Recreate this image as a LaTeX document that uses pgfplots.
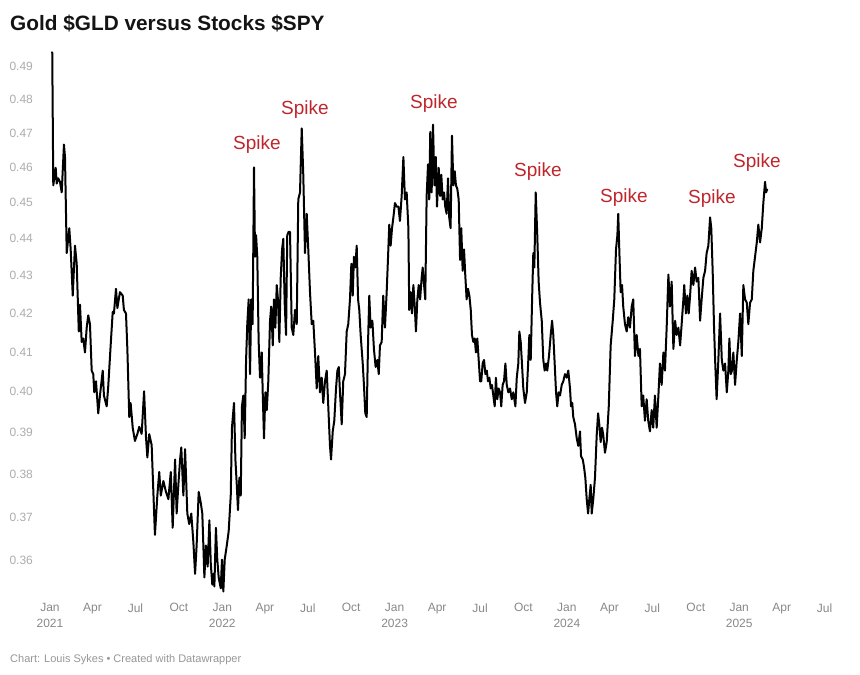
\documentclass[border=0pt]{standalone}
\usepackage{pgfplots}
\pgfplotsset{compat=1.18}
\usepackage{fontspec}
\setmainfont{Liberation Sans}
\definecolor{spikered}{RGB}{190,38,44}
\definecolor{xgray}{RGB}{136,136,136}
\definecolor{ygray}{RGB}{172,172,172}
\definecolor{footgray}{RGB}{150,150,150}
\definecolor{titleblack}{RGB}{20,20,20}
\begin{document}
\begin{tikzpicture}[x=1pt,y=1pt]
\useasboundingbox (0,0) rectangle (860,675);
\begin{axis}[
  at={(50pt,78pt)}, anchor=south west,
  scale only axis, width=778.8pt, height=547.3pt,
  xmin=2021, xmax=2025.52,
  ymode=log, ymin=0.352, ymax=0.495,
  axis line style={draw=none},
  major tick length=0pt,
  xtick={2021,2021.247,2021.496,2021.748,2022,2022.247,2022.496,2022.748,2023,2023.247,2023.496,2023.748,2024,2024.247,2024.496,2024.748,2025,2025.247,2025.496},
  xticklabels={{Jan\\2021},Apr,Jul,Oct,{Jan\\2022},Apr,Jul,Oct,{Jan\\2023},Apr,Jul,Oct,{Jan\\2024},Apr,Jul,Oct,{Jan\\2025},Apr,Jul},
  xticklabel style={align=center, anchor=north, yshift=-3pt, font=\fontsize{12}{15.5}\selectfont, text=xgray},
  ytick={0.36,0.37,0.38,0.39,0.40,0.41,0.42,0.43,0.44,0.45,0.46,0.47,0.48,0.49},
  yticklabels={0.36,0.37,0.38,0.39,0.40,0.41,0.42,0.43,0.44,0.45,0.46,0.47,0.48,0.49},
  yticklabel style={anchor=west, xshift=-44pt, font=\fontsize{12}{14}\selectfont, text=ygray},
  clip=false,
]
\addplot[black, line width=2pt, line join=round] table {
t v
2021.013 0.4944
2021.019 0.4549
2021.033 0.4599
2021.039 0.4554
2021.048 0.4569
2021.058 0.4559
2021.068 0.4529
2021.081 0.4666
2021.087 0.4630
2021.097 0.4361
2021.112 0.4429
2021.120 0.4371
2021.132 0.4247
2021.145 0.4381
2021.155 0.4332
2021.167 0.4153
2021.174 0.4223
2021.184 0.4126
2021.193 0.4135
2021.203 0.4099
2021.213 0.4163
2021.222 0.4195
2021.232 0.4172
2021.242 0.4053
2021.251 0.4044
2021.257 0.3999
2021.267 0.4026
2021.280 0.3947
2021.290 0.3991
2021.306 0.4053
2021.313 0.3991
2021.329 0.3964
2021.338 0.4013
2021.352 0.4117
2021.364 0.4204
2021.371 0.4200
2021.383 0.4265
2021.391 0.4214
2021.406 0.4256
2021.422 0.4247
2021.429 0.4209
2021.441 0.4200
2021.449 0.4108
2021.460 0.3938
2021.468 0.3973
2021.480 0.3912
2021.493 0.3880
2021.507 0.3897
2021.518 0.3914
2021.532 0.3897
2021.546 0.4001
2021.557 0.3890
2021.565 0.3840
2021.576 0.3896
2021.590 0.3870
2021.609 0.3659
2021.623 0.3750
2021.634 0.3805
2021.643 0.3750
2021.658 0.3784
2021.673 0.3758
2021.687 0.3741
2021.701 0.3805
2021.712 0.3675
2021.726 0.3835
2021.735 0.3708
2021.745 0.3775
2021.755 0.3835
2021.762 0.3864
2021.774 0.3750
2021.784 0.3860
2021.797 0.3708
2021.808 0.3684
2021.820 0.3708
2021.832 0.3643
2021.842 0.3571
2021.851 0.3635
2021.863 0.3758
2021.875 0.3733
2021.884 0.3708
2021.896 0.3563
2021.905 0.3635
2021.915 0.3587
2021.925 0.3692
2021.933 0.3595
2021.942 0.3547
2021.948 0.3571
2021.954 0.3543
2021.963 0.3675
2021.971 0.3603
2021.979 0.3563
2021.991 0.3539
2021.998 0.3603
2022.006 0.3532
2022.014 0.3603
2022.026 0.3635
2022.037 0.3667
2022.049 0.3750
2022.056 0.3912
2022.068 0.3973
2022.076 0.3835
2022.084 0.3775
2022.091 0.3716
2022.099 0.3792
2022.107 0.3750
2022.114 0.3964
2022.122 0.3991
2022.130 0.3886
2022.138 0.4080
2022.145 0.4172
2022.153 0.4237
2022.161 0.4044
2022.168 0.4237
2022.176 0.4172
2022.184 0.4600
2022.190 0.4351
2022.196 0.4410
2022.203 0.4351
2022.211 0.4126
2022.219 0.4035
2022.229 0.4099
2022.235 0.3991
2022.242 0.3886
2022.250 0.3999
2022.258 0.3955
2022.267 0.4026
2022.277 0.4181
2022.284 0.4218
2022.293 0.4117
2022.300 0.4237
2022.308 0.4163
2022.316 0.4275
2022.323 0.4237
2022.331 0.4126
2022.339 0.4294
2022.347 0.4371
2022.354 0.4400
2022.362 0.4228
2022.370 0.4144
2022.377 0.4410
2022.385 0.4419
2022.393 0.4419
2022.403 0.4163
2022.412 0.4144
2022.422 0.4209
2022.432 0.4172
2022.441 0.4509
2022.451 0.4529
2022.461 0.4713
2022.470 0.4579
2022.480 0.4361
2022.490 0.4469
2022.499 0.4371
2022.509 0.4256
2022.519 0.4172
2022.528 0.4181
2022.538 0.4099
2022.548 0.4008
2022.557 0.4090
2022.567 0.3999
2022.577 0.4035
2022.586 0.3973
2022.596 0.4026
2022.606 0.4053
2022.615 0.3964
2022.625 0.3868
2022.631 0.3835
2022.641 0.3903
2022.650 0.3929
2022.660 0.4008
2022.668 0.4053
2022.676 0.4062
2022.683 0.3999
2022.693 0.3920
2022.702 0.4026
2022.712 0.4044
2022.722 0.4153
2022.731 0.4172
2022.741 0.4237
2022.749 0.4332
2022.757 0.4247
2022.764 0.4351
2022.772 0.4322
2022.780 0.4381
2022.788 0.4237
2022.795 0.4209
2022.803 0.4144
2022.815 0.4071
2022.822 0.4017
2022.830 0.3947
2022.838 0.3938
2022.846 0.4126
2022.853 0.4247
2022.861 0.4163
2022.871 0.4181
2022.880 0.4108
2022.890 0.4062
2022.900 0.4080
2022.908 0.4044
2022.915 0.4117
2022.925 0.4126
2022.934 0.4247
2022.944 0.4163
2022.954 0.4256
2022.962 0.4351
2022.969 0.4439
2022.977 0.4381
2022.985 0.4429
2022.993 0.4459
2023.002 0.4499
2023.012 0.4489
2023.022 0.4489
2023.031 0.4449
2023.041 0.4519
2023.051 0.4630
2023.060 0.4509
2023.070 0.4529
2023.080 0.4429
2023.085 0.4209
2023.094 0.4256
2023.101 0.4200
2023.109 0.4275
2023.117 0.4218
2023.124 0.4153
2023.132 0.4237
2023.140 0.4275
2023.148 0.4237
2023.157 0.4294
2023.163 0.4322
2023.171 0.4275
2023.178 0.4237
2023.186 0.4519
2023.194 0.4609
2023.201 0.4509
2023.207 0.4703
2023.215 0.4529
2023.223 0.4724
2023.231 0.4549
2023.239 0.4630
2023.246 0.4489
2023.256 0.4599
2023.264 0.4519
2023.271 0.4579
2023.279 0.4509
2023.287 0.4529
2023.294 0.4489
2023.302 0.4469
2023.310 0.4569
2023.317 0.4459
2023.325 0.4429
2023.333 0.4692
2023.341 0.4549
2023.349 0.4589
2023.356 0.4549
2023.364 0.4539
2023.372 0.4509
2023.380 0.4342
2023.387 0.4429
2023.395 0.4313
2023.403 0.4371
2023.410 0.4303
2023.418 0.4237
2023.426 0.4265
2023.434 0.4247
2023.442 0.4209
2023.449 0.4144
2023.457 0.4126
2023.465 0.4135
2023.472 0.4099
2023.480 0.4135
2023.488 0.4080
2023.496 0.4026
2023.503 0.4026
2023.511 0.4071
2023.519 0.4080
2023.527 0.4044
2023.535 0.4053
2023.542 0.4026
2023.550 0.4035
2023.558 0.4008
2023.565 0.4017
2023.573 0.3991
2023.581 0.3964
2023.588 0.4035
2023.596 0.3982
2023.604 0.4008
2023.612 0.3999
2023.619 0.3964
2023.627 0.4017
2023.635 0.4026
2023.643 0.4071
2023.651 0.4017
2023.660 0.3999
2023.670 0.4008
2023.680 0.3982
2023.689 0.3999
2023.701 0.3964
2023.709 0.4035
2023.718 0.4071
2023.724 0.4153
2023.732 0.4126
2023.738 0.4080
2023.747 0.4008
2023.757 0.3973
2023.767 0.3999
2023.776 0.4080
2023.782 0.4144
2023.790 0.4080
2023.798 0.4237
2023.805 0.4361
2023.811 0.4322
2023.819 0.4529
2023.828 0.4410
2023.836 0.4284
2023.844 0.4228
2023.854 0.4181
2023.863 0.4080
2023.871 0.4053
2023.879 0.4071
2023.886 0.4053
2023.896 0.4090
2023.906 0.4144
2023.914 0.4181
2023.921 0.4144
2023.929 0.4071
2023.937 0.3999
2023.944 0.3964
2023.952 0.3999
2023.960 0.3991
2023.970 0.4017
2023.979 0.4026
2023.989 0.4044
2023.999 0.4035
2024.008 0.4053
2024.018 0.4008
2024.024 0.3964
2024.031 0.3973
2024.037 0.3938
2024.047 0.3920
2024.057 0.3886
2024.066 0.3868
2024.076 0.3903
2024.082 0.3843
2024.092 0.3835
2024.099 0.3818
2024.107 0.3792
2024.115 0.3741
2024.123 0.3708
2024.130 0.3741
2024.138 0.3775
2024.144 0.3708
2024.153 0.3741
2024.163 0.3792
2024.173 0.3894
2024.181 0.3947
2024.188 0.3920
2024.196 0.3877
2024.204 0.3912
2024.211 0.3894
2024.221 0.3851
2024.231 0.3877
2024.243 0.3964
2024.254 0.4117
2024.266 0.4181
2024.275 0.4237
2024.285 0.4371
2024.293 0.4410
2024.298 0.4469
2024.304 0.4371
2024.312 0.4256
2024.320 0.4275
2024.327 0.4218
2024.337 0.4172
2024.347 0.4153
2024.356 0.4190
2024.366 0.4163
2024.376 0.4218
2024.385 0.4237
2024.395 0.4090
2024.405 0.4144
2024.415 0.4090
2024.424 0.4108
2024.434 0.3964
2024.443 0.3991
2024.453 0.3929
2024.463 0.3982
2024.472 0.3929
2024.482 0.3903
2024.492 0.3955
2024.501 0.3912
2024.511 0.3991
2024.521 0.3912
2024.531 0.3991
2024.540 0.4071
2024.550 0.4017
2024.560 0.4099
2024.569 0.4053
2024.579 0.4163
2024.589 0.4303
2024.598 0.4218
2024.608 0.4284
2024.618 0.4108
2024.628 0.4181
2024.637 0.4144
2024.647 0.4163
2024.657 0.4117
2024.666 0.4172
2024.676 0.4237
2024.681 0.4275
2024.691 0.4200
2024.699 0.4247
2024.707 0.4200
2024.715 0.4247
2024.724 0.4313
2024.734 0.4275
2024.744 0.4322
2024.753 0.4284
2024.763 0.4294
2024.773 0.4181
2024.782 0.4237
2024.792 0.4294
2024.802 0.4313
2024.811 0.4361
2024.821 0.4381
2024.831 0.4459
2024.838 0.4429
2024.846 0.4313
2024.854 0.4163
2024.861 0.4071
2024.869 0.3982
2024.879 0.4080
2024.889 0.4200
2024.899 0.4080
2024.908 0.4053
2024.918 0.4071
2024.928 0.3999
2024.937 0.4053
2024.943 0.4135
2024.951 0.4044
2024.958 0.4053
2024.966 0.4099
2024.976 0.4017
2024.986 0.4080
2024.995 0.4126
2025.005 0.4200
2025.015 0.4090
2025.024 0.4275
2025.034 0.4237
2025.044 0.4228
2025.053 0.4172
2025.063 0.4228
2025.073 0.4237
2025.082 0.4313
2025.092 0.4351
2025.102 0.4390
2025.111 0.4439
2025.121 0.4390
2025.131 0.4429
2025.140 0.4499
2025.150 0.4559
2025.156 0.4529
2025.163 0.4539
};
\end{axis}
\node[anchor=base west, inner sep=0, font=\bfseries\fontsize{20.8}{24}\selectfont, text=titleblack] at (10,644) {Gold \$GLD versus Stocks \$SPY};
\node[anchor=base west, inner sep=0, font=\fontsize{11}{13}\selectfont, text=footgray] at (10,12.5) {Chart: Louis Sykes • Created with Datawrapper};
\begin{scope}[every node/.style={text=spikered, font=\fontsize{19}{22}\selectfont, inner sep=0}]
\node at (257,530) {Spike};
\node at (305,565) {Spike};
\node at (434,571) {Spike};
\node at (538,503) {Spike};
\node at (624,477) {Spike};
\node at (712,476) {Spike};
\node at (757,512) {Spike};
\end{scope}
\end{tikzpicture}
\end{document}
